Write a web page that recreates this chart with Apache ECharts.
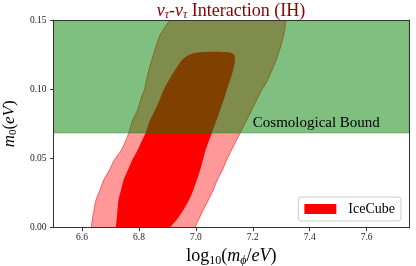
<!DOCTYPE html>
<html>
<head>
<meta charset="utf-8">
<script src="https://cdn.jsdelivr.net/npm/echarts@6/dist/echarts.min.js"></script>
<style>
html,body{margin:0;padding:0;background:#fff;}
#chart{width:416px;height:266px;}
</style>
</head>
<body>
<div id="chart"></div>
<script>
// ---- data ----
const xRange = [6.5, 7.75];
const yRange = [0, 0.15];
const xTicks = [6.6, 6.8, 7.0, 7.2, 7.4, 7.6];
const yTicks = [0, 0.05, 0.10, 0.15];

// outer (2-sigma) contour: left edge bottom->top, right edge top->bottom  [log10(m_phi), m0]
const outerLeftEdge = [
  [6.630, -0.010], [6.632, 0.000], [6.636, 0.0056], [6.642, 0.0128], [6.649, 0.0200],
  [6.663, 0.0272], [6.676, 0.0344], [6.696, 0.0416], [6.713, 0.0488], [6.738, 0.0560],
  [6.754, 0.0632], [6.764, 0.0683], [6.778, 0.0777], [6.795, 0.0850], [6.811, 0.0958],
  [6.819, 0.0993], [6.830, 0.1101], [6.850, 0.1245], [6.874, 0.1390], [6.907, 0.1498],
  [6.935, 0.1600]
];
const outerRightEdge = [
  [7.318, 0.1600], [7.316, 0.1498], [7.310, 0.1404], [7.296, 0.1294], [7.275, 0.1173],
  [7.249, 0.1053], [7.231, 0.0993], [7.196, 0.0849], [7.155, 0.0681], [7.125, 0.0560],
  [7.108, 0.0488], [7.093, 0.0416], [7.075, 0.0344], [7.061, 0.0272], [7.044, 0.0200],
  [7.026, 0.0128], [7.009, 0.0056], [6.997, 0.0000], [6.982, -0.010]
];

// inner (1-sigma) contour: left edge bottom->top, top edge, right edge top->bottom
const innerLeftEdge = [
  [6.718, -0.010], [6.719, 0.0000], [6.723, 0.0092], [6.728, 0.0200], [6.737, 0.0272],
  [6.746, 0.0344], [6.761, 0.0416], [6.776, 0.0488], [6.795, 0.0560], [6.811, 0.0632],
  [6.823, 0.0683], [6.839, 0.0777], [6.856, 0.0849], [6.872, 0.0921], [6.886, 0.0993],
  [6.895, 0.1029], [6.915, 0.1101], [6.938, 0.1173], [6.950, 0.1209], [6.965, 0.1235],
  [6.986, 0.1256]
];
const innerTopEdge = [
  [7.015, 0.1267], [7.067, 0.1271], [7.113, 0.1267], [7.131, 0.1256]
];
const innerRightEdge = [
  [7.137, 0.1231], [7.137, 0.1197], [7.126, 0.1101], [7.114, 0.1029], [7.103, 0.0957],
  [7.085, 0.0849], [7.073, 0.0777], [7.056, 0.0683], [7.034, 0.0560], [7.015, 0.0416],
  [6.991, 0.0272], [6.976, 0.0200], [6.956, 0.0128], [6.932, 0.0056], [6.909, 0.0000],
  [6.890, -0.010]
];

// cosmological bound on m0
const cosmoBound = [0.0685, 0.15];
const cosmoLabelPos = [7.2, 0.07];
const cosmoLabelText = 'Cosmological Bound';
const legendName = 'IceCube';

const outerPolygon = outerLeftEdge.concat(outerRightEdge);
const innerPolygon = innerLeftEdge.concat(innerTopEdge, innerRightEdge);

const SERIF = '"Liberation Serif", "Times New Roman", serif';

function polygonSeries(name, pts, style, z) {
  return {
    name: name,
    type: 'custom',
    clip: true,
    z: z,
    silent: true,
    itemStyle: { color: style.legendColor },
    data: pts,
    renderItem: function (params, api) {
      if (params.dataIndex !== 0) return null;
      const coords = pts.map(function (p) { return api.coord(p); });
      return {
        type: 'polygon',
        shape: { points: coords, smooth: 0.25 },
        style: { fill: style.fill, stroke: style.stroke, lineWidth: style.lineWidth }
      };
    }
  };
}

const chart = echarts.init(document.getElementById('chart'), null, { renderer: 'canvas' });

const axisLineStyle = { color: '#333', width: 1 };
const titleColor = '#8b0000';

const option = {
  animation: false,
  backgroundColor: '#fff',
  textStyle: { fontFamily: SERIF },
  title: {
    text: '{g|ν}{s|τ}{n|-}{g|ν}{s|τ}{n| Interaction (IH)}',
    left: 226,
    top: -4,
    textAlign: 'center',
    textStyle: {
      fontWeight: 'normal',
      rich: {
        g: { fontFamily: SERIF, fontStyle: 'italic', fontWeight: 'normal', fontSize: 18, color: titleColor },
        s: { fontFamily: SERIF, fontStyle: 'italic', fontWeight: 'normal', fontSize: 12, color: titleColor, padding: [8, 0, 0, 0] },
        n: { fontFamily: SERIF, fontWeight: 'normal', fontSize: 18, color: titleColor }
      }
    }
  },
  grid: { left: 53.6, right: 6.7, top: 20, bottom: 38.3, containLabel: false, outerBoundsMode: 'none' },
  legend: {
    data: [legendName],
    right: 15,
    bottom: 45,
    z: 20,
    orient: 'vertical',
    icon: 'rect',
    itemWidth: 32,
    itemHeight: 10,
    padding: [5, 6, 5, 6],
    backgroundColor: 'rgba(255,255,255,0.85)',
    borderColor: '#ccc',
    borderWidth: 1,
    borderRadius: 3,
    selectedMode: false,
    textStyle: { fontFamily: SERIF, fontSize: 14, color: '#000', padding: [0, 0, 0, 7] }
  },
  xAxis: [{
    type: 'value',
    min: xRange[0], max: xRange[1],
    z: 10,
    name: '{n|log}{s|10}{n|(}{i|m}{t|ϕ}{n|/}{i|eV}{n|)}',
    nameLocation: 'middle',
    nameGap: 16,
    nameTextStyle: {
      rich: {
        n: { fontFamily: SERIF, fontSize: 18, color: '#000' },
        i: { fontFamily: SERIF, fontSize: 18, fontStyle: 'italic', color: '#000' },
        s: { fontFamily: SERIF, fontSize: 12, color: '#000', padding: [8, 0, 0, 0] },
        t: { fontFamily: SERIF, fontSize: 12, fontStyle: 'italic', color: '#000', padding: [8, 0, 0, 0] }
      }
    },
    axisLine: { show: true, onZero: false, lineStyle: axisLineStyle },
    axisTick: { show: true, length: 3.5, customValues: xTicks, lineStyle: axisLineStyle },
    axisLabel: {
      customValues: xTicks, margin: 5,
      fontFamily: SERIF, fontSize: 9.5, color: '#222',
      formatter: function (v) { return Number(v).toFixed(1); }
    },
    splitLine: { show: false }
  }, {
    type: 'value', position: 'top',
    min: xRange[0], max: xRange[1], z: 10,
    axisLine: { show: true, onZero: false, lineStyle: axisLineStyle },
    axisTick: { show: false }, axisLabel: { show: false }, splitLine: { show: false }
  }],
  yAxis: [{
    type: 'value',
    min: yRange[0], max: yRange[1], interval: 0.05,
    z: 10,
    name: '{i|m}{s|0}{n|(}{i|eV}{n|)}',
    nameLocation: 'middle',
    nameRotate: 90,
    nameGap: 33,
    nameTextStyle: {
      rich: {
        n: { fontFamily: SERIF, fontSize: 17, color: '#000' },
        i: { fontFamily: SERIF, fontSize: 17, fontStyle: 'italic', color: '#000' },
        s: { fontFamily: SERIF, fontSize: 11, color: '#000', padding: [8, 0, 0, 0] }
      }
    },
    axisLine: { show: true, onZero: false, lineStyle: axisLineStyle },
    axisTick: { show: true, length: 3.5, customValues: yTicks, lineStyle: axisLineStyle },
    axisLabel: {
      customValues: yTicks, margin: 7,
      fontFamily: SERIF, fontSize: 9.5, color: '#222',
      formatter: function (v) { return Number(v).toFixed(2); }
    },
    splitLine: { show: false }
  }, {
    type: 'value', position: 'right',
    min: yRange[0], max: yRange[1], z: 10,
    axisLine: { show: true, onZero: false, lineStyle: axisLineStyle },
    axisTick: { show: false }, axisLabel: { show: false }, splitLine: { show: false }
  }],
  series: [
    polygonSeries('outer', outerPolygon,
      { fill: 'rgba(255,0,0,0.4)', stroke: 'rgba(255,0,0,0.7)', lineWidth: 0.8, legendColor: 'rgba(255,0,0,0.4)' }, 2),
    polygonSeries(legendName, innerPolygon,
      { fill: '#ff0000', stroke: null, lineWidth: 0, legendColor: '#ff0000' }, 3),
    {
      name: 'cosmo',
      type: 'custom',
      clip: true,
      z: 5,
      silent: true,
      data: [[xRange[0], cosmoBound[0], xRange[1], cosmoBound[1]]],
      renderItem: function (params, api) {
        const p0 = api.coord([api.value(0), api.value(1)]);
        const p1 = api.coord([api.value(2), api.value(3)]);
        const lp = api.coord(cosmoLabelPos);
        return {
          type: 'group',
          children: [{
            type: 'rect',
            shape: { x: p0[0], y: p1[1], width: p1[0] - p0[0], height: p0[1] - p1[1] },
            style: { fill: 'rgba(0,128,0,0.5)', stroke: 'rgba(0,128,0,0.5)', lineWidth: 1 }
          }, {
            type: 'text',
            x: lp[0], y: lp[1],
            style: {
              text: cosmoLabelText, fill: '#000',
              font: '15px ' + SERIF,
              align: 'left', verticalAlign: 'bottom'
            }
          }]
        };
      }
    }
  ]
};
chart.setOption(option);
</script>
</body>
</html>
